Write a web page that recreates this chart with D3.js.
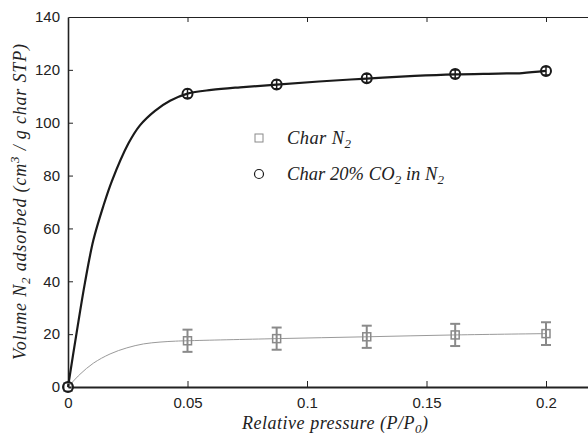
<!DOCTYPE html>
<html><head><meta charset="utf-8">
<script src="https://cdn.jsdelivr.net/npm/d3@7"></script>
<style>
html,body{margin:0;padding:0;background:#fff;}
svg{display:block;}
.tick text{font-family:"Liberation Sans",Arial,sans-serif;font-size:15px;fill:#222;}
.math{font-family:"Liberation Serif","DejaVu Serif",serif;font-style:italic;fill:#222;}
</style>
</head><body>
<svg id="chart" width="588" height="439"></svg>
<script>
// ---- data ----
const pressures = [0, 0.05, 0.0873, 0.125, 0.162, 0.2];
const charN2 = [0, 17.5, 18.3, 19.0, 19.7, 20.2];
const charN2Err = [0, 4.2, 4.2, 4.2, 4.2, 4.3];
const charCO2 = [0, 111.0, 114.5, 116.8, 118.4, 119.6];
const charCO2Err = [0, 1.6, 1.6, 1.5, 1.5, 1.5];

const fitCO2X = [0, 0.0036, 0.0071, 0.0106, 0.0148, 0.0184, 0.0252, 0.0301, 0.0364, 0.0427, 0.05, 0.06, 0.072, 0.0873, 0.105, 0.125, 0.145, 0.162, 0.18, 0.19, 0.2];
const fitCO2Y = [0, 20.5, 39.5, 55.5, 68.5, 78, 92, 99, 104.5, 108.3, 111, 112.4, 113.4, 114.4, 115.6, 116.7, 117.7, 118.3, 118.6, 118.8, 119.6];
const fitN2X = [0, 0.005, 0.0106, 0.0176, 0.0246, 0.0316, 0.0385, 0.045, 0.05, 0.0873, 0.125, 0.162, 0.2];
const fitN2Y = [0, 4.8, 9.0, 12.5, 14.8, 16.3, 17.0, 17.35, 17.5, 18.3, 19.0, 19.7, 20.2];

const xTicks = [0, 0.05, 0.1, 0.15, 0.2];
const xTickLabels = ["0", "0.05", "0.1", "0.15", "0.2"];
const yTicks = [0, 20, 40, 60, 80, 100, 120, 140];

// ---- layout ----
const svg = d3.select("#chart");
const x = d3.scaleLinear().domain([0, 0.22]).range([68, 68 + 0.22 * 2390]);
const y = d3.scaleLinear().domain([0, 140]).range([387, 17]);
const gray = "#8a8a8a";
const black = "#1a1a1a";

// axes
const xAxis = svg.append("g").attr("transform", `translate(0,${y(0)})`)
  .call(d3.axisBottom(x).tickValues(xTicks).tickFormat((d,i)=>xTickLabels[i]).tickSizeInner(-6).tickSizeOuter(0).tickPadding(10));
xAxis.select(".domain").attr("stroke", "#222").attr("stroke-width", 2);
xAxis.selectAll(".tick line").attr("stroke", "#222").attr("stroke-width", 1);
xAxis.selectAll(".tick").filter(d => d === 0).select("line").remove();

const xTop = svg.append("g").attr("transform", `translate(0,${y(140)})`)
  .call(d3.axisTop(x).tickValues(xTicks).tickFormat("").tickSizeInner(-5).tickSizeOuter(0));
xTop.select(".domain").attr("stroke", "#222").attr("stroke-width", 1.2);
xTop.selectAll(".tick line").attr("stroke", "#222").attr("stroke-width", 1);
xTop.selectAll(".tick").filter(d => d === 0).select("line").remove();

const yAxis = svg.append("g").attr("transform", `translate(${x(0)},0)`)
  .call(d3.axisLeft(y).tickValues(yTicks).tickSizeInner(-5).tickSizeOuter(0).tickPadding(8));
yAxis.select(".domain").attr("stroke", "#222").attr("stroke-width", 1.6);
yAxis.selectAll(".tick line").attr("stroke", "#222").attr("stroke-width", 1);
yAxis.selectAll(".tick").filter(d => d === 0 || d === 140).select("line").remove();

// fitted curves
const lineGen = d3.line().x(d => x(d[0])).y(d => y(d[1])).curve(d3.curveCatmullRom.alpha(0.5));
svg.append("path").datum(d3.zip(fitN2X, fitN2Y)).attr("d", lineGen)
  .attr("fill", "none").attr("stroke", "#9a9a9a").attr("stroke-width", 1);
svg.append("path").datum(d3.zip(fitCO2X, fitCO2Y)).attr("d", lineGen)
  .attr("fill", "none").attr("stroke", black).attr("stroke-width", 2.2);

// Char N2 markers (gray squares + error bars)
const n2 = svg.append("g");
pressures.forEach((p, i) => {
  const cx = x(p), cy = y(charN2[i]), e = charN2Err[i];
  if (e > 0) {
    n2.append("line").attr("x1", cx).attr("x2", cx).attr("y1", y(charN2[i] - e)).attr("y2", y(charN2[i] + e)).attr("stroke", gray).attr("stroke-width", 2);
    [charN2[i] - e, charN2[i] + e].forEach(v => n2.append("line").attr("x1", cx - 5).attr("x2", cx + 5).attr("y1", y(v)).attr("y2", y(v)).attr("stroke", gray).attr("stroke-width", 2));
  }
  n2.append("rect").attr("x", cx - 4).attr("y", cy - 4).attr("width", 8).attr("height", 8)
    .attr("fill", "#fff").attr("fill-opacity", 0).attr("stroke", gray).attr("stroke-width", 1.5);
});

// Char 20% CO2 markers (black circles + error bars)
const co2 = svg.append("g");
pressures.forEach((p, i) => {
  const cx = x(p), cy = y(charCO2[i]), e = charCO2Err[i];
  co2.append("circle").attr("cx", cx).attr("cy", cy).attr("r", 5)
    .attr("fill", "none").attr("stroke", black).attr("stroke-width", 2);
  if (e > 0) {
    co2.append("line").attr("x1", cx).attr("x2", cx).attr("y1", y(charCO2[i] - e)).attr("y2", y(charCO2[i] + e)).attr("stroke", black).attr("stroke-width", 1.5);
    [charCO2[i] - e, charCO2[i] + e].forEach(v => co2.append("line").attr("x1", cx - 3.5).attr("x2", cx + 3.5).attr("y1", y(v)).attr("y2", y(v)).attr("stroke", black).attr("stroke-width", 1.2));
  }
});

// fit helper: stretch text to a target width
function fitWidth(sel, w) {
  sel.attr("textLength", w).attr("lengthAdjust", "spacing");
}

// legend
const leg = svg.append("g");
leg.append("rect").attr("x", 255).attr("y", 134).attr("width", 8).attr("height", 8).attr("fill", "none").attr("stroke", gray).attr("stroke-width", 1);
leg.append("circle").attr("cx", 259).attr("cy", 174).attr("r", 4.5).attr("fill", "none").attr("stroke", black).attr("stroke-width", 1.2);
const t1 = leg.append("text").attr("class", "math").attr("x", 287).attr("y", 144).attr("font-size", 18.5);
t1.append("tspan").text("Char N");
t1.append("tspan").attr("font-size", 13).attr("dy", 4).text("2");
const t2 = leg.append("text").attr("class", "math").attr("x", 287).attr("y", 180).attr("font-size", 18.5);
t2.append("tspan").text("Char 20% CO");
t2.append("tspan").attr("font-size", 13).attr("dy", 4).text("2");
t2.append("tspan").attr("dy", -4).text(" in N");
t2.append("tspan").attr("font-size", 13).attr("dy", 4).text("2");
fitWidth(t1, 64);
fitWidth(t2, 157);

// axis titles
const xl = svg.append("text").attr("class", "math").attr("x", 242).attr("y", 429).attr("font-size", 18);
xl.append("tspan").text("Relative pressure (P/P");
xl.append("tspan").attr("font-size", 13).attr("dy", 4).text("0");
xl.append("tspan").attr("dy", -4).text(")");
fitWidth(xl, 186);

const yl = svg.append("text").attr("class", "math").attr("transform", "translate(26,360) rotate(-90)").attr("font-size", 18);
yl.append("tspan").text("Volume N");
yl.append("tspan").attr("font-size", 13).attr("dy", 4).text("2");
yl.append("tspan").attr("dy", -4).text(" adsorbed (cm");
yl.append("tspan").attr("font-size", 13).attr("dy", -7).text("3");
yl.append("tspan").attr("dy", 7).text(" / g char STP)");
fitWidth(yl, 316);
</script>
</body></html>
